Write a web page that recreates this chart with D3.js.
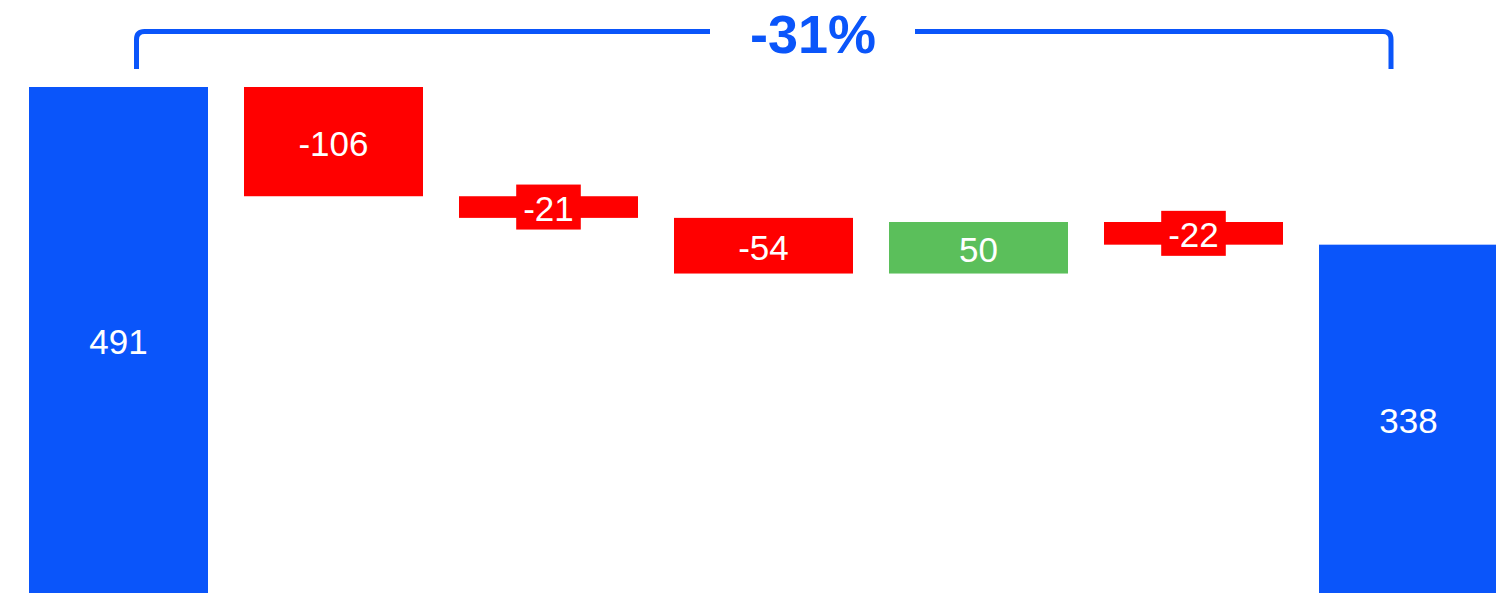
<!DOCTYPE html>
<html>
<head>
<meta charset="utf-8">
<script src="https://cdn.jsdelivr.net/npm/d3@7"></script>
<style>
  body { margin: 0; background: #fff; }
  text { font-family: "Liberation Sans", Arial, sans-serif; }
</style>
</head>
<body>
<div id="plot"></div>
<script>
// waterfall data
const categories = ["start", "a", "b", "c", "d", "e", "end"];
const values = [491, -106, -21, -54, 50, -22, 338];
const kinds = ["total", "delta", "delta", "delta", "delta", "delta", "total"];
const changeLabel = "-31%";

const width = 1496, height = 593;
const colors = { total: "#0A55FA", down: "#FF0000", up: "#5BBF5B" };

const svg = d3.select("#plot").append("svg")
    .attr("width", width)
    .attr("height", height);

// running totals for the floating bars
let running = 0;
const bars = values.map((v, i) => {
    let y0, y1, color;
    if (kinds[i] === "total") {
        y0 = 0; y1 = v; running = v; color = colors.total;
    } else {
        y0 = running; y1 = running + v; running = y1;
        color = v < 0 ? colors.down : colors.up;
    }
    return { cat: categories[i], value: v, lo: Math.min(y0, y1), hi: Math.max(y0, y1), color };
});

const x = d3.scaleBand()
    .domain(categories)
    .range([29, 1498])
    .paddingInner(36 / 215)
    .paddingOuter(0);

const y = d3.scaleLinear()
    .domain([0, 491])
    .range([593, 87]);

svg.selectAll("rect.bar")
    .data(bars)
    .enter().append("rect")
    .attr("class", "bar")
    .attr("x", d => x(d.cat))
    .attr("y", d => y(d.hi))
    .attr("width", x.bandwidth())
    .attr("height", d => y(d.lo) - y(d.hi))
    .attr("fill", d => d.color);

// labels, thin bars get a box behind the number
const labels = svg.selectAll("g.label")
    .data(bars)
    .enter().append("g")
    .attr("class", "label")
    .attr("transform", d => `translate(${x(d.cat) + x.bandwidth() / 2},${(y(d.lo) + y(d.hi)) / 2})`);

labels.each(function (d) {
    const g = d3.select(this);
    const t = g.append("text")
        .attr("text-anchor", "middle")
        .attr("y", 1.5)
        .attr("dy", "0.36em")
        .attr("font-size", 35)
        .attr("fill", "#fff")
        .text(d.value);
    if (y(d.lo) - y(d.hi) < 45) {
        const w = t.node().getComputedTextLength() + 14;
        g.insert("rect", "text")
            .attr("x", -w / 2)
            .attr("y", -22.5)
            .attr("width", w)
            .attr("height", 45)
            .attr("fill", d.color);
    }
});

// bracket with the overall change
const bx0 = 136.5, bx1 = 1391, by = 31.5, bBottom = 69, r = 8;
const gapL = 710, gapR = 915;
const bracket = d3.path();
bracket.moveTo(bx0, bBottom);
bracket.lineTo(bx0, by + r);
bracket.quadraticCurveTo(bx0, by, bx0 + r, by);
bracket.lineTo(gapL, by);
bracket.moveTo(gapR, by);
bracket.lineTo(bx1 - r, by);
bracket.quadraticCurveTo(bx1, by, bx1, by + r);
bracket.lineTo(bx1, bBottom);

svg.append("path")
    .attr("d", bracket.toString())
    .attr("fill", "none")
    .attr("stroke", colors.total)
    .attr("stroke-width", 5);

svg.append("text")
    .attr("x", 813)
    .attr("y", 53)
    .attr("text-anchor", "middle")
    .attr("font-size", 54)
    .attr("font-weight", "bold")
    .attr("fill", colors.total)
    .text(changeLabel);
</script>
</body>
</html>
